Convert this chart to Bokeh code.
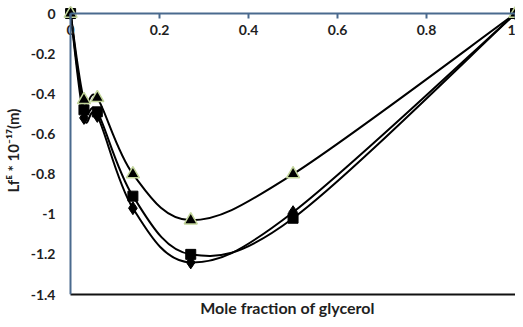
from bokeh.plotting import figure
from bokeh.models import Range1d, LinearAxis, FixedTicker, ColumnDataSource
from bokeh.embed import file_html
from bokeh.resources import INLINE

# ---- data ----
x_glycerol = [0.0, 0.03, 0.06, 0.14, 0.27, 0.50, 1.0]
series_triangle = [0.0, -0.43, -0.42, -0.80, -1.03, -0.80, 0.0]
series_square = [0.0, -0.48, -0.49, -0.91, -1.20, -1.02, 0.0]
series_diamond = [0.0, -0.52, -0.51, -0.97, -1.24, -0.99, 0.0]

x_ticks = [0, 0.2, 0.4, 0.6, 0.8, 1]
x_tick_labels = ["0", "0.2", "0.4", "0.6", "0.8", "1"]
y_ticks = [0, -0.2, -0.4, -0.6, -0.8, -1, -1.2, -1.4]
y_tick_labels = ["0", "-0.2", "-0.4", "-0.6", "-0.8", "-1", "-1.2", "-1.4"]

x_title = "Mole fraction of glycerol"
y_title = "Lfᴱ * 10⁻¹⁷(m)"

AXIS_BLUE = "#4A6A8E"
TEXT = "#1f1f1f"
FONT = "Lato"


def smooth_segments(xs, ys):
    """Bezier control points (Catmull-Rom style, like a smoothed line)."""
    n = len(xs)
    d = dict(x0=[], y0=[], x1=[], y1=[], cx0=[], cy0=[], cx1=[], cy1=[])
    for i in range(n - 1):
        ip, inn = max(i - 1, 0), min(i + 2, n - 1)
        d["x0"].append(xs[i]); d["y0"].append(ys[i])
        d["x1"].append(xs[i + 1]); d["y1"].append(ys[i + 1])
        d["cx0"].append(xs[i] + (xs[i + 1] - xs[ip]) / 6)
        d["cy0"].append(ys[i] + (ys[i + 1] - ys[ip]) / 6)
        d["cx1"].append(xs[i + 1] - (xs[inn] - xs[i]) / 6)
        d["cy1"].append(ys[i + 1] - (ys[inn] - ys[i]) / 6)
    return ColumnDataSource(d)


p = figure(width=515, height=319,
           x_range=Range1d(-0.025, 1.0), y_range=Range1d(-1.4, 0.035),
           output_backend="svg", toolbar_location=None,
           x_axis_location=None, y_axis_location=None,
           min_border_left=56, min_border_right=0,
           min_border_top=6, min_border_bottom=21)
p.outline_line_color = None
p.xgrid.visible = False
p.ygrid.visible = False
p.background_fill_color = "white"
p.border_fill_color = "white"

# x axis drawn along y = 0 (labels inside the plot, below the line)
xa = LinearAxis(fixed_location=0, ticker=FixedTicker(ticks=x_ticks),
                major_label_overrides=dict(zip(x_ticks, x_tick_labels)),
                bounds=(0, 1))
xa.axis_line_color = AXIS_BLUE
xa.axis_line_width = 2
xa.major_tick_line_color = AXIS_BLUE
xa.major_tick_line_width = 2
xa.major_tick_in = 0
xa.major_tick_out = 5
xa.minor_tick_line_color = None
xa.major_label_standoff = 6
xa.major_label_text_font = FONT
xa.major_label_text_font_style = "bold"
xa.major_label_text_font_size = "14px"
xa.major_label_text_color = TEXT
p.add_layout(xa, "below")

# y axis line along x = 0
ya_line = LinearAxis(fixed_location=0, ticker=FixedTicker(ticks=[]),
                     bounds=(-1.4, 0))
ya_line.axis_line_color = AXIS_BLUE
ya_line.axis_line_width = 2
ya_line.major_tick_line_color = None
ya_line.minor_tick_line_color = None
p.add_layout(ya_line, "left")

# y tick labels and title (no line of its own)
ya = LinearAxis(ticker=FixedTicker(ticks=y_ticks),
                major_label_overrides=dict(zip(y_ticks, y_tick_labels)))
ya.axis_line_color = None
ya.major_tick_line_color = None
ya.minor_tick_line_color = None
ya.major_tick_in = 0
ya.major_tick_out = 0
ya.major_label_standoff = 4
ya.major_label_text_font = FONT
ya.major_label_text_font_style = "bold"
ya.major_label_text_font_size = "14px"
ya.major_label_text_color = TEXT
ya.axis_label = y_title
ya.axis_label_standoff = 6
ya.axis_label_text_font = FONT
ya.axis_label_text_font_style = "bold"
ya.axis_label_text_font_size = "15px"
ya.axis_label_text_color = TEXT
p.add_layout(ya, "left")

# bottom border line with the x title
xb = LinearAxis(ticker=FixedTicker(ticks=[]), bounds=(0, 1))
xb.axis_line_color = "#111111"
xb.axis_line_width = 2
xb.major_tick_line_color = None
xb.minor_tick_line_color = None
xb.axis_label = x_title
xb.axis_label_standoff = 3
xb.axis_label_text_font = FONT
xb.axis_label_text_font_style = "bold"
xb.axis_label_text_font_size = "16px"
xb.axis_label_text_color = TEXT
p.add_layout(xb, "below")

# smoothed curves
for ys in (series_diamond, series_square, series_triangle):
    p.bezier(x0="x0", y0="y0", x1="x1", y1="y1", cx0="cx0", cy0="cy0",
             cx1="cx1", cy1="cy1", source=smooth_segments(x_glycerol, ys),
             line_color="black", line_width=2)

p.scatter(x_glycerol, series_diamond, marker="diamond", size=13,
          fill_color="black", line_color="black")
p.scatter(x_glycerol, series_square, marker="square", size=10,
          fill_color="black", line_color="black")
p.scatter(x_glycerol, series_triangle, marker="triangle", size=13,
          fill_color="black", line_color="#C3D69B", line_width=1.5)

open("out.html", "w").write(file_html(p, INLINE))
